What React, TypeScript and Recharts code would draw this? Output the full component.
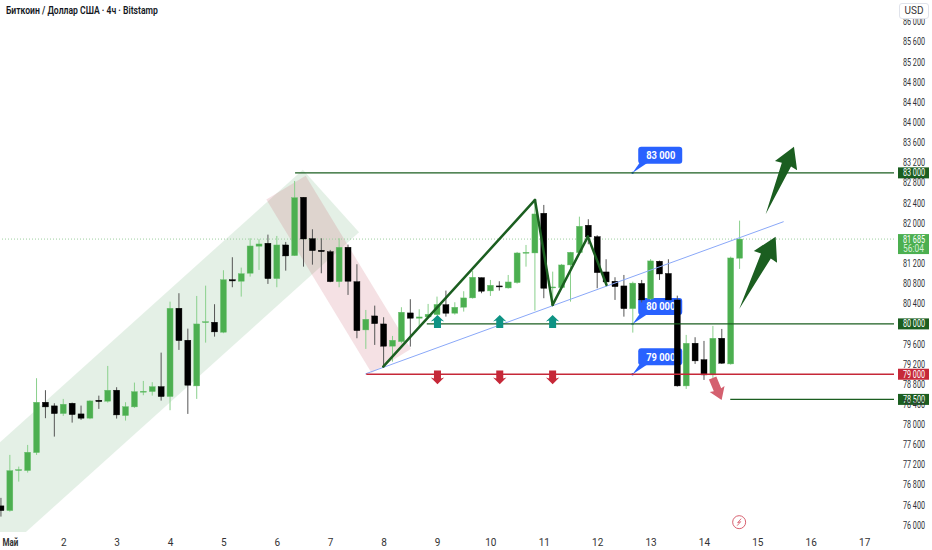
import React from 'react';
import { ComposedChart, Bar, XAxis, YAxis, ReferenceLine, ReferenceDot } from 'recharts';

const indexes = Array.from({ length: 84 }, (_, i) => i);

const opens = [76385, 76291, 77086, 77086, 77443, 78444, 78371, 78218, 78424, 78212, 78127, 78484, 78464, 78683, 78178, 78351, 78643, 78655, 78754, 78556, 80311, 79676, 78768, 80025, 80033, 79834, 80879, 80847, 81006, 81543, 81602, 80899, 81568, 81356, 82516, 81693, 81463, 81435, 80839, 81523, 80839, 79880, 80158, 79999, 79557, 79648, 80218, 80113, 80138, 80184, 80383, 80212, 80331, 80516, 80919, 80655, 80754, 80714, 80820, 81403, 81409, 82198, 80714, 80720, 81171, 81415, 81960, 81733, 81032, 80847, 80754, 80303, 80804, 80496, 81245, 81002, 80476, 78768, 79616, 79290, 78986, 79715, 79205, 81304];
const closes = [76291, 77086, 77106, 77451, 78444, 78351, 78218, 78405, 78198, 78127, 78470, 78456, 78683, 78192, 78357, 78655, 78663, 78754, 78556, 80311, 79668, 78782, 79999, 80045, 79841, 80879, 80853, 80998, 81548, 81588, 80899, 81568, 81350, 82508, 81687, 81455, 81435, 80839, 81523, 80847, 79866, 80093, 80005, 79557, 79676, 80232, 80113, 80138, 80192, 80387, 80212, 80331, 80516, 80927, 80649, 80768, 80734, 80833, 81409, 81423, 82184, 80708, 80734, 81171, 81423, 81940, 81727, 81018, 80833, 80740, 80303, 80810, 80476, 81251, 80992, 80476, 78768, 79616, 79265, 78986, 79715, 79219, 81310, 81685];
const highs = [76544, 77398, 77165, 77596, 78921, 78683, 78424, 78510, 78436, 78377, 78484, 78575, 79165, 78742, 78444, 78834, 78867, 78842, 79429, 80442, 80609, 79906, 80555, 80760, 80391, 81066, 81324, 81118, 81701, 81682, 81773, 81747, 81628, 82839, 82516, 81880, 81701, 81469, 81701, 81574, 81185, 80277, 80363, 80132, 79761, 80331, 80490, 80291, 80397, 80542, 80661, 80430, 80649, 81052, 80919, 80873, 80847, 80972, 81430, 81568, 82462, 82363, 81038, 81191, 81430, 82130, 82079, 81761, 81284, 80927, 80972, 80839, 80873, 81286, 81257, 81284, 80561, 79781, 79735, 79662, 79960, 79900, 81336, 82051];
const lows = [76172, 76270, 76867, 77046, 77398, 78127, 77761, 78172, 78039, 78093, 78107, 78311, 78436, 78119, 78079, 78331, 78583, 78575, 78476, 78285, 79483, 78212, 78510, 79628, 79747, 79815, 80728, 80542, 80939, 81072, 80794, 80728, 81058, 81350, 81137, 81177, 81006, 80828, 80728, 80575, 79715, 79503, 79582, 79151, 79251, 79616, 79549, 79914, 80113, 80172, 80144, 80184, 80244, 80502, 80609, 80555, 80661, 80700, 80800, 81137, 80264, 80510, 80377, 80708, 80442, 81400, 81582, 80708, 80768, 80476, 80144, 79827, 80426, 80476, 80873, 80470, 78754, 78708, 79205, 78887, 78927, 79205, 79190, 81092];

const dayTicks = [1, 7, 13, 19, 25, 31, 37, 43, 49, 55, 61, 67, 73, 79, 85, 91, 97];
const dayLabels = ['Май', '2', '3', '4', '5', '6', '7', '8', '9', '10', '11', '12', '13', '14', '15', '16', '17'];
// 80 000 and 81 600 sit behind the price tags, so they are not ticks here
const priceTicks = [76000, 76400, 76800, 77200, 77600, 78000, 78400, 78800, 79200, 79600, 80400, 80800, 81200, 82000, 82400, 82800, 83200, 83600, 84000, 84400, 84800, 85200, 85600, 86000];

const zigzag = [
  { k: 42.91, price: 79151 },
  { k: 59.96, price: 82462 },
  { k: 61.94, price: 80377 },
  { k: 65.9, price: 81733 },
  { k: 68.0, price: 80774 },
];
const upMarks = [49, 56, 61.94];
const downMarks = [49, 56, 61.94];
const callouts = [83000, 80000, 79000];

const GREEN = '#4caf50';
const DARK = '#1b5e20';
const RED = '#c62838';
const FONT = 'Roboto, sans-serif';

const rows = indexes.map((k) => ({
  k,
  range: [lows[k], highs[k]],
  open: opens[k],
  close: closes[k],
}));

const fmt = (v: number) => {
  const s = String(v);
  return s.slice(0, 2) + ' ' + s.slice(2);
};

// the reference's type is narrower than anything installed, so squeeze it sideways
const Squeezed = ({ x, y, sx = 0.72, size = 10, weight = 400, fill = '#2f3238', anchor = 'start', children }: any) => (
  <text transform={`translate(${x},${y}) scale(${sx},1)`} textAnchor={anchor} fontSize={size} fontWeight={weight} fontFamily={FONT} fill={fill}>{children}</text>
);

const Candle = (props: any) => {
  const { x, y, width, height, payload } = props;
  const [low, high] = payload.range;
  const up = payload.close >= payload.open;
  const py = (p: number) => y + ((high - p) / (high - low)) * height;
  const cx = x + width / 2;
  const top = py(Math.max(payload.open, payload.close));
  const bottom = py(Math.min(payload.open, payload.close));
  return (
    <g>
      <line x1={cx} x2={cx} y1={y} y2={y + height} stroke={up ? '#8ad08c' : '#555'} strokeWidth={1} />
      <rect x={cx - 3} y={top} width={6} height={Math.max(bottom - top, 1)} fill={up ? GREEN : '#000'} stroke={up ? '#6cc070' : '#000'} strokeWidth={0.4} />
    </g>
  );
};

// block arrow between the two ends of a segment
const arrowShape = (fill: string, headAt: number, headHalf: number, neckHalf: number, tailHalf: number) => (props: any) => {
  const { x1, y1, x2, y2 } = props;
  const len = Math.hypot(x2 - x1, y2 - y1);
  const ux = (x2 - x1) / len;
  const uy = (y2 - y1) / len;
  const pt = (along: number, side: number) => `${x1 + ux * along - uy * side},${y1 + uy * along + ux * side}`;
  const head = len * headAt;
  const pts = [pt(0, -tailHalf), pt(head + 1, -neckHalf), pt(head, -headHalf), pt(len, 0), pt(head, headHalf), pt(head + 1, neckHalf), pt(0, tailHalf)];
  return <polygon points={pts.join(' ')} fill={fill} />;
};

const priceTag = (value: number, fill: string, color: string) => (props: any) => {
  const { x1, y1, x2, y2 } = props;
  return (
    <g>
      <line x1={x1} y1={y1} x2={x2} y2={y2} stroke={color} strokeWidth={1.4} />
      <rect x={x2 + 4} y={y2 - 5.5} width={31} height={11} fill={fill} />
      <Squeezed x={x2 + 9} y={y2 + 3.5} fill="#fff">{fmt(value)}</Squeezed>
    </g>
  );
};

const Callout = (props: any) => {
  const { cx, cy, value } = props;
  return (
    <g>
      <polygon points={`${cx},${cy} ${cx + 7},${cy - 10} ${cx + 15},${cy - 10}`} fill="#2962ff" />
      <rect x={cx + 5.6} y={cy - 26} width={44} height={17} rx={3} fill="#2962ff" />
      <Squeezed x={cx + 13.6} y={cy - 13.5} sx={0.85} size={11} weight={700} fill="#fff">{fmt(value)}</Squeezed>
      <circle cx={cx} cy={cy} r={1.2} fill="#2962ff" />
    </g>
  );
};

const LastPrice = (props: any) => {
  const { cy } = props;
  return (
    <g>
      <rect x={898} y={cy - 5} width={31} height={20} fill={GREEN} />
      <Squeezed x={903} y={cy + 3.5} fill="#fff">{fmt(81685)}</Squeezed>
      <Squeezed x={903} y={cy + 13} sx={0.84} fill="#d6f0d7">56:04</Squeezed>
    </g>
  );
};

const Lightning = (props: any) => {
  const { cx, cy } = props;
  return (
    <g>
      <circle cx={cx} cy={cy} r={6.5} fill="#fff" stroke="#d8606f" strokeWidth={1} />
      <polyline points={`${cx + 2},${cy - 3.5} ${cx - 1.5},${cy + 0.5} ${cx + 1.5},${cy - 0.5} ${cx - 2},${cy + 3.5}`} fill="none" stroke="#d8606f" strokeWidth={0.9} />
    </g>
  );
};

const DayTick = (props: any) => {
  const { x, y, payload } = props;
  const label = dayLabels[dayTicks.indexOf(payload.value)];
  const first = label === 'Май';
  return (
    <Squeezed x={x} y={y + 6} sx={first ? 0.8 : 1} weight={first ? 700 : 400} anchor="middle" fill="#333">{label}</Squeezed>
  );
};

const PriceTick = (props: any) => {
  const { y, payload } = props;
  return <Squeezed x={903} y={y + 3.5}>{fmt(payload.value)}</Squeezed>;
};

const App: React.FC = () => (
  <div style={{ position: 'absolute', left: 0, top: 0, width: 932, height: 550, background: '#fff', overflow: 'hidden' }}>
    <ComposedChart width={932} height={550} data={rows} margin={{ top: 0, right: 0, bottom: 0, left: 0 }}>
      <XAxis dataKey="k" type="number" domain={[-0.157, 100.3]} ticks={dayTicks} tick={<DayTick />} axisLine={false} tickLine={false} height={18} allowDataOverflow />
      <YAxis orientation="right" domain={[75866, 86434]} ticks={priceTicks} tick={<PriceTick />} width={38} axisLine={false} tickLine={false} allowDataOverflow interval={0} />

      <ReferenceLine segment={[{ x: -5.78, y: 75630 }, { x: 37.03, y: 82442 }]} stroke="#4b9b58" strokeOpacity={0.15} strokeWidth={84} ifOverflow="hidden" zIndex={100} />
      <ReferenceLine segment={[{ x: 31.98, y: 82706 }, { x: 43.81, y: 79264 }]} stroke="#bc374b" strokeOpacity={0.15} strokeWidth={46} ifOverflow="hidden" zIndex={100} />
      <ReferenceLine y={81685} stroke="#9ccf9e" strokeDasharray="1 2" zIndex={100} />

      {callouts.map((v) => (
        <ReferenceDot key={v} x={70.93} y={v} r={0} shape={(p: any) => <Callout {...p} value={v} />} zIndex={150} />
      ))}

      <Bar dataKey="range" barSize={6} shape={<Candle />} isAnimationActive={false} />

      <ReferenceLine segment={[{ x: 33, y: 83000 }, { x: 100.3, y: 83000 }]} shape={priceTag(83000, DARK, DARK)} zIndex={800} />
      <ReferenceLine segment={[{ x: 47.8, y: 80000 }, { x: 100.3, y: 80000 }]} shape={priceTag(80000, DARK, DARK)} zIndex={800} />
      <ReferenceLine segment={[{ x: 41, y: 79000 }, { x: 100.3, y: 79000 }]} shape={priceTag(79000, RED, RED)} zIndex={800} />
      <ReferenceLine segment={[{ x: 81.9, y: 78500 }, { x: 100.3, y: 78500 }]} shape={priceTag(78500, DARK, DARK)} zIndex={800} />
      <ReferenceLine segment={[{ x: 40.9, y: 79006 }, { x: 87.9, y: 82031 }]} stroke="#8aa8f8" strokeWidth={1} />

      {zigzag.slice(1).map((pt, i) => (
        <ReferenceLine key={`zig-${i}`} segment={[{ x: zigzag[i].k, y: zigzag[i].price }, { x: pt.k, y: pt.price }]} stroke={DARK} strokeWidth={2.5} strokeLinecap="round" />
      ))}

      <ReferenceLine segment={[{ x: 85.88, y: 82178 }, { x: 89.06, y: 83521 }]} shape={arrowShape(DARK, 0.72, 12, 5, 0)} />
      <ReferenceLine segment={[{ x: 82.91, y: 80297 }, { x: 87.0, y: 81733 }]} shape={arrowShape(DARK, 0.72, 13, 5.5, 0)} />
      <ReferenceLine segment={[{ x: 79.92, y: 78927 }, { x: 80.93, y: 78490 }]} shape={arrowShape('#d4606f', 0.5, 8, 4, 4)} />
      {upMarks.map((k) => (
        <ReferenceLine key={`up-${k}`} segment={[{ x: k, y: 79920 }, { x: k, y: 80178 }]} shape={arrowShape('#0e9384', 0.5, 6.7, 3.5, 3.5)} zIndex={800} />
      ))}
      {downMarks.map((k) => (
        <ReferenceLine key={`down-${k}`} segment={[{ x: k, y: 79072 }, { x: k, y: 78802 }]} shape={arrowShape(RED, 0.5, 6.7, 3.5, 3.5)} zIndex={800} />
      ))}

      <ReferenceDot x={82.9} y={76061} r={0} shape={Lightning} />
      <ReferenceDot x={98} y={81685} r={0} shape={LastPrice} ifOverflow="visible" zIndex={800} />
    </ComposedChart>
    <div style={{ position: 'absolute', left: 6, top: 4, font: `600 10.5px ${FONT}`, color: '#131722', transform: 'scaleX(0.82)', transformOrigin: 'left top', whiteSpace: 'nowrap' }}>Биткоин / Доллар США · 4ч · Bitstamp</div>
    <div style={{ position: 'absolute', left: 899, top: 3, width: 30, height: 16, boxSizing: 'border-box', border: '1px solid #e0e3eb', borderRadius: 3, background: '#fff', font: `10px ${FONT}`, color: '#333', textAlign: 'center', lineHeight: '14px' }}>USD</div>
  </div>
);

export default App;
